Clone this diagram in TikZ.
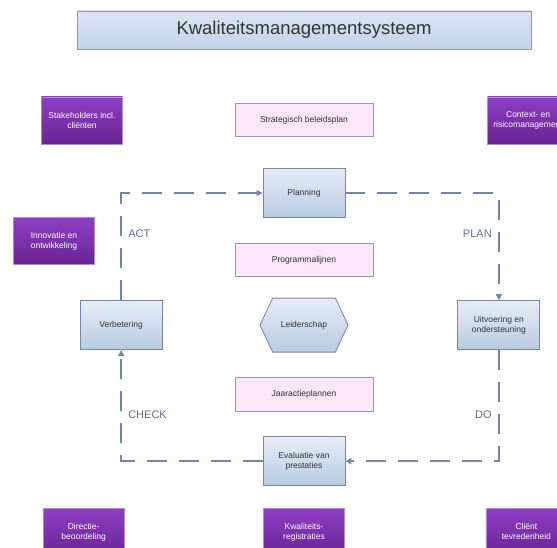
\documentclass[tikz,border=0pt]{standalone}
\usepackage{fontspec}
\setmainfont{Liberation Sans}
\usetikzlibrary{arrows.meta,positioning,shapes.symbols}
\definecolor{SteelLine}{HTML}{6F87AB}
\definecolor{BoxTop}{HTML}{E6EDF7}
\definecolor{BoxBottom}{HTML}{B9CAE1}
\definecolor{BoxLine}{HTML}{7088AA}
\definecolor{Blush}{HTML}{FCE6F7}
\definecolor{BlushLine}{HTML}{8C9BC8}
\definecolor{PlumTop}{HTML}{8E3FC6}
\definecolor{PlumBottom}{HTML}{6A2492}
\definecolor{PlumLine}{HTML}{B48AD6}
\definecolor{HeadTop}{HTML}{DCE5F3}
\definecolor{HeadBottom}{HTML}{C3D2E9}
\definecolor{HeadLine}{HTML}{8D9CB6}
\definecolor{LabelGrey}{HTML}{5C6F8C}
\definecolor{Ink}{HTML}{333333}

\begin{document}
\begin{tikzpicture}[
  x=1pt,y=-1pt,
  headbox/.style={
    draw=HeadLine,
    thick,
    top color=HeadTop,
    bottom color=HeadBottom,
    minimum width=454pt,
    minimum height=38pt,
    text=Ink,
    font=\fontsize{18.5}{21}\selectfont
  },
  cycle/.style={
    draw=BoxLine,
    thick,
    top color=BoxTop,
    bottom color=BoxBottom,
    minimum width=82pt,
    minimum height=49pt,
    align=center,
    text=Ink,
    font=\fontsize{8.5}{10}\selectfont
  },
  plan/.style={
    draw=BlushLine,
    thick,
    fill=Blush,
    minimum width=138pt,
    minimum height=33pt,
    text=Ink,
    font=\fontsize{8.5}{10}\selectfont
  },
  source/.style={
    draw=PlumLine,
    top color=PlumTop,
    bottom color=PlumBottom,
    minimum width=81pt,
    minimum height=47pt,
    align=center,
    text=white,
    font=\fontsize{8.5}{10}\selectfont
  },
  loop/.style={
    draw=SteelLine,
    line width=1.6pt,
    dash pattern=on 20pt off 12pt,
    -{Triangle[length=6pt,width=6pt]}
  },
  phase/.style={text=LabelGrey,font=\fontsize{11}{13}\selectfont}
]
\useasboundingbox (0,0) rectangle (557,547);

% PDCA-cirkel
\node[cycle] (planning) at (304,193) {Planning};
\node[plan,above=31pt of planning] (beleid) {Strategisch beleidsplan};
\node[headbox,above=54pt of beleid] (kms) {Kwaliteitsmanagementsysteem};
\node[plan,below=25pt of planning] (lijnen) {Programmalijnen};
\node[cycle,signal,signal to=west and east,signal pointer angle=130,
  minimum width=88pt,minimum height=54pt,below=21pt of lijnen] (leider) {Leiderschap};
\node[plan,minimum height=34pt,below=24pt of leider] (jaar) {Jaaractieplannen};
\node[cycle,below=25pt of jaar] (evaluatie) {Evaluatie van\\prestaties};
\node[cycle,left=97pt of leider] (verbetering) {Verbetering};
\node[cycle,right=109pt of leider] (uitvoering) {Uitvoering en\\ondersteuning};

% bronnen
\node[source,left=112pt of beleid] (stakeholders) {Stakeholders incl.\\cliënten};
\node[source,right=114pt of beleid] (context) {Context- en\\risicomanagement};
\node[source] (innovatie) at (54,241) {Innovatie en\\ontwikkeling};
\node[source,below=22pt of evaluatie] (registratie) {Kwaliteits-\\registraties};
\node[source,left=139pt of registratie] (directie) {Directie-\\beoordeling};
\node[source,right=141pt of registratie] (client) {Cliënt\\tevredenheid};

\draw[loop] (verbetering.north) |- node[phase,pos=0.31,right=3pt]{ACT} (planning.west);
\draw[loop] (planning.east) -| node[phase,pos=0.69,left=3pt]{PLAN} (uitvoering.north);
\draw[loop] (uitvoering.south) |- node[phase,pos=0.29,left=3pt]{DO} (evaluatie.east);
\draw[loop] (evaluatie.west) -| node[phase,pos=0.71,right=3pt]{CHECK} (verbetering.south);
\end{tikzpicture}
\end{document}
